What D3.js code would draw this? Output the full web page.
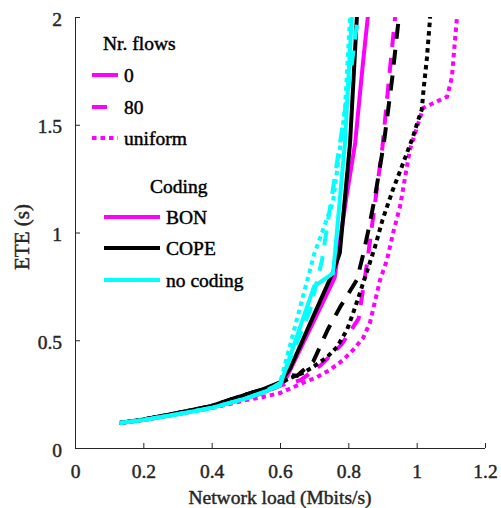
<!DOCTYPE html>
<html><head><meta charset="utf-8">
<script src="https://cdn.jsdelivr.net/npm/d3@7"></script>
<style>
html,body{margin:0;padding:0;background:#fff;}
svg{display:block;font-family:"Liberation Serif","Times New Roman",serif;}
</style></head>
<body><svg id="c" width="501" height="508"></svg>
<script>
// ---- data (network load in Mbit/s, ETE in s) ----
const xTicks = [0, 0.2, 0.4, 0.6, 0.8, 1, 1.2];
const yTicks = [0, 0.5, 1, 1.5, 2];
const xLabel = "Network load (Mbits/s)";
const yLabel = "ETE (s)";

const bon0 = [[0.13,0.116],[0.2,0.13],[0.3,0.158],[0.4,0.188],[0.5,0.232],[0.55,0.258],[0.6,0.288],[0.62,0.33],[0.69,0.56],[0.76,0.79],[0.77,0.905],[0.795,1.17],[0.82,1.415],[0.843,1.79],[0.857,2.0],[0.865,2.15]];
const bon80 = [[0.13,0.116],[0.2,0.13],[0.3,0.158],[0.4,0.188],[0.5,0.23],[0.55,0.255],[0.6,0.29],[0.66,0.315],[0.72,0.385],[0.78,0.48],[0.83,0.6],[0.855,0.86],[0.865,0.98],[0.9,1.4],[0.925,1.81],[0.937,2.0],[0.942,2.1]];
const bonU = [[0.13,0.116],[0.2,0.13],[0.3,0.157],[0.4,0.185],[0.5,0.222],[0.55,0.237],[0.6,0.255],[0.667,0.302],[0.708,0.329],[0.746,0.362],[0.784,0.408],[0.814,0.455],[0.843,0.51],[0.863,0.58],[0.893,0.78],[0.913,0.872],[0.931,0.998],[0.951,1.118],[0.98,1.383],[1.019,1.578],[1.089,1.63],[1.103,1.72],[1.118,2.0],[1.12,2.1]];

const cope0 = [[0.13,0.116],[0.2,0.132],[0.3,0.162],[0.4,0.195],[0.5,0.248],[0.55,0.272],[0.6,0.305],[0.63,0.37],[0.7,0.62],[0.755,0.815],[0.775,0.905],[0.805,1.415],[0.825,2.0],[0.83,2.1]];
const cope80 = [[0.13,0.116],[0.2,0.132],[0.3,0.162],[0.4,0.195],[0.5,0.248],[0.55,0.272],[0.6,0.3],[0.62,0.34],[0.65,0.335],[0.697,0.4],[0.74,0.55],[0.776,0.654],[0.825,0.78],[0.843,0.895],[0.86,1.02],[0.878,1.165],[0.904,1.415],[0.928,1.71],[0.948,2.0],[0.955,2.1]];
const copeU = [[0.13,0.116],[0.2,0.132],[0.3,0.162],[0.4,0.195],[0.5,0.248],[0.55,0.272],[0.6,0.3],[0.63,0.325],[0.667,0.348],[0.697,0.376],[0.738,0.422],[0.767,0.469],[0.796,0.548],[0.814,0.626],[0.834,0.72],[0.878,0.933],[0.9,1.058],[0.93,1.197],[0.96,1.32],[0.989,1.443],[1.004,1.52],[1.015,1.57],[1.02,1.66],[1.03,1.81],[1.039,1.99],[1.042,2.1]];

const nocod0 = [[0.13,0.116],[0.2,0.13],[0.3,0.157],[0.4,0.186],[0.5,0.23],[0.55,0.258],[0.6,0.29],[0.7,0.75],[0.755,0.81],[0.761,0.905],[0.79,1.415],[0.81,2.0],[0.815,2.1]];
const nocod80 = [[0.13,0.116],[0.2,0.13],[0.3,0.157],[0.4,0.186],[0.5,0.23],[0.55,0.258],[0.6,0.3],[0.688,0.64],[0.723,0.872],[0.732,0.965],[0.805,1.72],[0.828,2.0],[0.833,2.1]];
const nocodU = [[0.13,0.116],[0.2,0.13],[0.3,0.157],[0.4,0.186],[0.5,0.23],[0.55,0.258],[0.6,0.3],[0.7,0.9],[0.755,1.14],[0.79,1.57],[0.805,2.0],[0.81,2.1]];

const flowNames = ["0", "80", "uniform"];
const codingNames = ["BON", "COPE", "no coding"];
const codingColors = ["#ff00ff", "#000000", "#00ffff"];
const flowDash = ["none", "15,11", "4.5,4"];

const seriesTable = [
  {coding:0, flow:0, data:bon0},{coding:0, flow:1, data:bon80},{coding:0, flow:2, data:bonU},
  {coding:1, flow:0, data:cope0},{coding:1, flow:1, data:cope80},{coding:1, flow:2, data:copeU},
  {coding:2, flow:0, data:nocod0},{coding:2, flow:1, data:nocod80},{coding:2, flow:2, data:nocodU}
];

// ---- layout ----
const svg = d3.select("#c");
const L = 75, R = 485, T = 17, B = 448;
const FS = 19.5;
const axisCol = "#262626";
const x = d3.scaleLinear().domain([0, 1.2]).range([L, R]);
const y = d3.scaleLinear().domain([0, 2]).range([B, T]);

svg.append("defs").append("clipPath").attr("id","clip")
  .append("rect").attr("x",L).attr("y",T).attr("width",R-L).attr("height",B-T);

const line = d3.line().x(d=>x(d[0])).y(d=>y(d[1]));
const gLines = svg.append("g").attr("clip-path","url(#clip)");
seriesTable.forEach(s=>{
  gLines.append("path").datum(s.data)
    .attr("d", line)
    .attr("fill","none")
    .attr("stroke", codingColors[s.coding])
    .attr("stroke-width", 4)
    .attr("stroke-dasharray", flowDash[s.flow])
    .attr("stroke-linejoin","miter");
});

function heavy(sel, col){
  sel.attr("fill",col).attr("stroke",col).attr("stroke-width",0.45)
     .attr("font-family","Liberation Serif, Times New Roman, serif");
  return sel;
}

// axes
const xAxis = d3.axisBottom(x).tickValues(xTicks).tickSize(-5).tickPadding(16)
  .tickFormat(d=>String(+d.toFixed(1)));
const gx = svg.append("g").attr("transform",`translate(0,${B})`).call(xAxis);
const yAxis = d3.axisLeft(y).tickValues(yTicks).tickSize(-5).tickPadding(13)
  .tickFormat(d=>String(+d.toFixed(1)));
const gy = svg.append("g").attr("transform",`translate(${L},0)`).call(yAxis);
[gx, gy].forEach(g=>{
  g.select(".domain").attr("stroke",axisCol).attr("stroke-width",1);
  g.selectAll(".tick line").attr("stroke",axisCol).attr("stroke-width",1);
  heavy(g.selectAll(".tick text"), axisCol).attr("font-size",FS);
});
gy.selectAll(".tick text").attr("dy","0.42em");
gx.select(".domain").attr("d",`M${L},0.5H${R}`);
gy.select(".domain").attr("d",`M0.5,${B}V${T}`);

heavy(svg.append("text").attr("x",(L+R)/2).attr("y",504).attr("text-anchor","middle")
  .attr("font-size",FS), axisCol).text(xLabel);
heavy(svg.append("text").attr("transform",`translate(29,237) rotate(-90)`)
  .attr("text-anchor","middle").attr("font-size",21), axisCol).text(yLabel);

// legends
const lg = svg.append("g");
heavy(lg.append("text").attr("x",103).attr("y",50).attr("font-size",FS), "#000").text("Nr. flows");
const flowRows = [75, 107, 138];
flowNames.forEach((n,i)=>{
  const x2 = i===1 ? 107 : 118;
  lg.append("line").attr("x1",92).attr("x2",x2).attr("y1",flowRows[i]).attr("y2",flowRows[i])
    .attr("stroke",codingColors[0]).attr("stroke-width",4).attr("stroke-dasharray",flowDash[i]);
  heavy(lg.append("text").attr("x",124).attr("y",flowRows[i]+6.5).attr("font-size",FS), "#000").text(n);
});
heavy(lg.append("text").attr("x",150).attr("y",193).attr("font-size",FS), "#000").text("Coding");
const codRows = [217, 248, 280];
codingNames.forEach((n,i)=>{
  lg.append("line").attr("x1",104).attr("x2",160).attr("y1",codRows[i]).attr("y2",codRows[i])
    .attr("stroke",codingColors[i]).attr("stroke-width",4);
  heavy(lg.append("text").attr("x",166).attr("y",codRows[i]+6.5).attr("font-size",FS), "#000").text(n);
});
</script></body></html>
